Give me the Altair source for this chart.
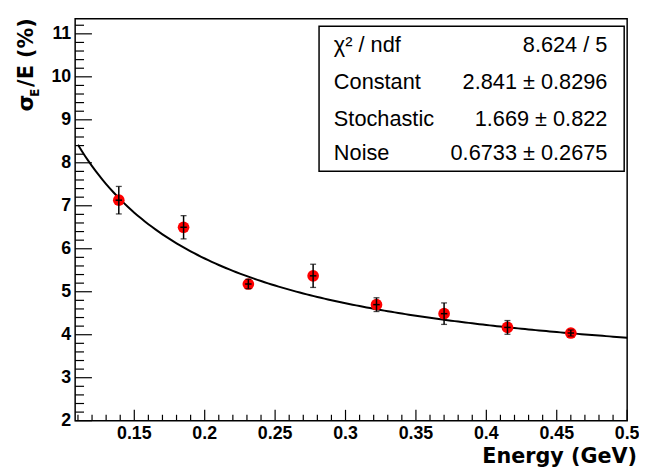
import altair as alt
import pandas as pd

# ---- data ----
energy = [0.139, 0.185, 0.231, 0.277, 0.322, 0.370, 0.415, 0.460]
energy_err = [0.0023, 0.0023, 0.0023, 0.0023, 0.0023, 0.0023, 0.0023, 0.0023]
resolution = [7.13, 6.50, 5.18, 5.37, 4.70, 4.49, 4.17, 4.04]
resolution_err = [0.32, 0.27, 0.11, 0.27, 0.16, 0.25, 0.16, 0.07]

# fit parameters (from the stat box)
fit_constant = 2.841
fit_stochastic = 1.669
fit_noise = 0.6733
fit_range = [0.11, 0.5005]

stat_labels = ["χ² / ndf", "Constant", "Stochastic", "Noise"]
stat_values = ["8.624 / 5", "2.841 ± 0.8296", "1.669 ± 0.822", "0.6733 ± 0.2675"]

x_domain = [0.108, 0.5]
y_domain = [2, 11.35]
x_major = [0.15, 0.2, 0.25, 0.3, 0.35, 0.4, 0.45, 0.5]
x_labels = ["0.15", "0.2", "0.25", "0.3", "0.35", "0.4", "0.45", "0.5"]
y_major = [2, 3, 4, 5, 6, 7, 8, 9, 10, 11]
y_labels = ["2", "3", "4", "5", "6", "7", "8", "9", "10", "11"]
x_minor = [round(0.11 + 0.01 * i, 2) for i in range(40)]
x_minor = [v for v in x_minor if all(abs(v - m) > 1e-6 for m in x_major)]
y_minor = [round(2.2 + 0.2 * i, 1) for i in range(46)]
y_minor = [v for v in y_minor if abs(v - round(v)) > 1e-6]

W, H = 559, 407
FONT = "Liberation Sans"
TFONT = "DejaVu Sans"

xs = alt.Scale(domain=x_domain, nice=False, zero=False)
ys = alt.Scale(domain=y_domain, nice=False, zero=False)

pts = pd.DataFrame({"E": energy, "dE": energy_err, "R": resolution, "dR": resolution_err})

curve = (
    alt.Chart(alt.sequence(fit_range[0], fit_range[1], 0.0025, as_="E"))
    .transform_calculate(
        res=f"sqrt(pow({fit_constant},2) + pow({fit_stochastic},2)/datum.E + pow({fit_noise}/datum.E,2))"
    )
    .mark_line(color="black", strokeWidth=2)
    .encode(x=alt.X("E:Q", scale=xs, axis=None), y=alt.Y("res:Q", scale=ys, axis=None))
)

base = alt.Chart(pts).transform_calculate(
    lo="datum.R - datum.dR", hi="datum.R + datum.dR",
    elo="datum.E - datum.dE", ehi="datum.E + datum.dE",
)

markers = base.mark_circle(size=140, color="#ff0000", opacity=1).encode(
    x=alt.X("E:Q", scale=xs, axis=None), y=alt.Y("R:Q", scale=ys, axis=None)
)
vbar = base.mark_rule(color="black", strokeWidth=1.5).encode(
    x=alt.X("E:Q", scale=xs, axis=None),
    y=alt.Y("lo:Q", scale=ys, axis=None), y2="hi:Q",
)
hbar = base.mark_rule(color="black", strokeWidth=1.5).encode(
    x=alt.X("elo:Q", scale=xs, axis=None), x2="ehi:Q",
    y=alt.Y("R:Q", scale=ys, axis=None),
)
cap_lo = base.mark_tick(orient="horizontal", size=6, thickness=1.3, color="black").encode(
    x=alt.X("E:Q", scale=xs, axis=None), y=alt.Y("lo:Q", scale=ys, axis=None)
)
cap_hi = base.mark_tick(orient="horizontal", size=6, thickness=1.3, color="black").encode(
    x=alt.X("E:Q", scale=xs, axis=None), y=alt.Y("hi:Q", scale=ys, axis=None)
)


def xticks(vals, length):
    return alt.Chart(pd.DataFrame({"v": vals})).mark_rule(color="black", strokeWidth=1.2).encode(
        x=alt.X("v:Q", scale=xs, axis=None), y=alt.value(H), y2=alt.value(H - length)
    )


def yticks(vals, length):
    return alt.Chart(pd.DataFrame({"v": vals})).mark_rule(color="black", strokeWidth=1.2).encode(
        y=alt.Y("v:Q", scale=ys, axis=None), x=alt.value(0), x2=alt.value(length)
    )


xlab = alt.Chart(pd.DataFrame({"v": x_major, "t": x_labels})).mark_text(
    align="center", baseline="alphabetic", font=FONT, fontSize=18, fontWeight="bold", color="black"
).encode(x=alt.X("v:Q", scale=xs, axis=None), y=alt.value(H + 19), text="t:N")

ylab = alt.Chart(pd.DataFrame({"v": y_major, "t": y_labels})).mark_text(
    align="right", baseline="middle", font=FONT, fontSize=18, fontWeight="bold", color="black"
).encode(y=alt.Y("v:Q", scale=ys, axis=None), x=alt.value(-4), text="t:N")

one = pd.DataFrame({"k": [0]})

xtitle = alt.Chart(one).mark_text(
    text="Energy (GeV)", align="right", baseline="alphabetic", font=TFONT, fontSize=21,
    fontWeight="bold", color="black"
).encode(x=alt.value(W + 10), y=alt.value(H + 42.5))

box = alt.Chart(one).mark_rect(fill="white", stroke="black", strokeWidth=1.5).encode(
    x=alt.value(247), x2=alt.value(556), y=alt.value(7.5), y2=alt.value(154.5)
)

stat_layers = []
row_y = [34, 71.5, 109, 143.5]
for lab, val, yy in zip(stat_labels, stat_values, row_y):
    stat_layers.append(
        alt.Chart(one).mark_text(text=lab, align="left", baseline="alphabetic", font=FONT,
                                 fontSize=22, color="black")
        .encode(x=alt.value(262), y=alt.value(yy))
    )
    stat_layers.append(
        alt.Chart(one).mark_text(text=val, align="right", baseline="alphabetic", font=FONT,
                                 fontSize=22, color="black")
        .encode(x=alt.value(539), y=alt.value(yy))
    )

# y-axis title: sigma with subscript E, rotated
ytitle = [
    alt.Chart(one).mark_text(text="σ", angle=270, align="left", baseline="alphabetic", font=TFONT,
                             fontSize=22, fontWeight="bold", color="black")
    .encode(x=alt.value(-43), y=alt.value(94)),
    alt.Chart(one).mark_text(text="E", angle=270, align="left", baseline="alphabetic", font=TFONT,
                             fontSize=12, fontWeight="bold", color="black")
    .encode(x=alt.value(-37), y=alt.value(79)),
    alt.Chart(one).mark_text(text="/E (%)", angle=270, align="left", baseline="alphabetic", font=TFONT,
                             fontSize=21, fontWeight="bold", color="black")
    .encode(x=alt.value(-43), y=alt.value(69)),
]

chart = alt.layer(
    curve, markers, vbar, hbar, cap_lo, cap_hi,
    xticks(x_major, 11), xticks(x_minor, 6), yticks(y_major, 17), yticks(y_minor, 9),
    xlab, ylab, xtitle,
    box, *stat_layers, *ytitle,
).properties(
    width=W, height=H,
    autosize=alt.AutoSizeParams(type="none"),
    padding={"left": 68, "top": 8, "right": 12, "bottom": 47},
    background="white",
).configure_view(stroke="black", strokeWidth=1.5)

chart.save("out.html", embed_options={"renderer": "svg", "actions": False})
